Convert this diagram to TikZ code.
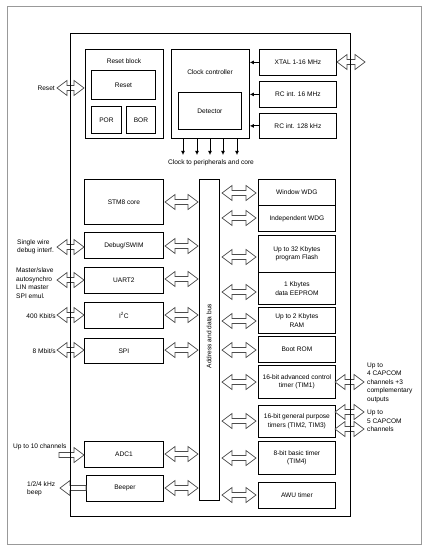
\documentclass[tikz,border=0pt]{standalone}
\usepackage{fontspec}
\setmainfont{Liberation Sans}
\usetikzlibrary{arrows.meta}
\tikzset{
  blk/.style={draw, line width=0.8pt, fill=white, align=center, inner sep=1pt,
    font=\fontsize{6.6}{8.5}\selectfont, anchor=north west},
  lbl/.style={font=\fontsize{6.6}{8.5}\selectfont, inner sep=0pt, align=left},
  barrow/.style={draw=black!70, line width=0.7pt, fill=white, line join=miter},
  clk/.style={-{Latex[length=4pt,width=4pt]}, line width=0.8pt},
  frame/.style={draw=black!40, line width=0.8pt},
  chip/.style={draw, line width=0.8pt},
}
% block node by corners: name, x1, y1, x2, y2, text
\newcommand\blkbox[6]{\node[blk, minimum width=#4pt-#2pt, minimum height=#5pt-#3pt] (#1) at (#2,#3) {#6};}
% double block arrow: x1 x2 y
\newcommand\DA[3]{\draw[barrow] (#1,#3) -- (#1+10,#3-7.5) -- (#1+10,#3-2.5) -- (#2-10,#3-2.5) -- (#2-10,#3-7.5) -- (#2,#3) -- (#2-10,#3+7.5) -- (#2-10,#3+2.5) -- (#1+10,#3+2.5) -- (#1+10,#3+7.5) -- cycle;}
\begin{document}
\begin{tikzpicture}[x=1pt,y=-1pt]
\useasboundingbox (0,0) rectangle (434,556);
% outer frame
\draw[frame] (7,6) rectangle (421,544);
% chip
\path[fill=white] (70,33) rectangle (350,516);
% reset block
\blkbox{rstblk}{85}{49}{163}{138}{}
\node[lbl] (rstlbl) at (124,61) {Reset block};
\blkbox{rst}{91}{70}{155}{99}{Reset}
\blkbox{por}{91}{106}{121}{133}{POR}
\blkbox{bor}{126}{106}{155}{133}{BOR}
% clock controller
\blkbox{clkc}{171}{49}{249}{138}{}
\node[lbl] (clklbl) at (210,72) {Clock controller};
\blkbox{det}{178}{92}{241}{129}{Detector}
\blkbox{xtal}{259}{49}{336}{75}{XTAL 1-16 MHz}
\blkbox{rc16}{259}{81}{336}{107}{RC int. 16 MHz}
\blkbox{rc128}{259}{113}{336}{138}{RC int. 128 kHz}
\draw[clk] (xtal.west) -- (clkc.east |- xtal.west);
\draw[clk] (rc16.west) -- (clkc.east |- rc16.west);
\draw[clk] (rc128.west) -- (clkc.east |- rc128.west);
\foreach \i/\x in {1/183,2/197,3/210,4/223,5/237}{
  \coordinate (ct\i) at (\x,155);
  \draw[clk] (clkc.south -| ct\i) -- (ct\i);
}
\node[lbl] (clkout) at (211,163) {Clock to peripherals and core};
% left column
\blkbox{core}{84}{179}{163}{224}{STM8 core}
\blkbox{dbg}{84}{232}{163}{258}{Debug/SWIM}
\blkbox{uart}{84}{267}{163}{293}{UART2}
\blkbox{iic}{84}{302}{163}{328}{I\textsuperscript{2}C}
\blkbox{spi}{84}{338}{163}{363}{SPI}
\blkbox{adc}{84}{441}{163}{467}{ADC1}
\blkbox{beep}{86}{475}{163}{501}{Beeper}
% bus
\blkbox{bus}{199}{179}{219}{500}{}
\node[lbl, rotate=90] (buslbl) at (209,336) {Address and data bus};
% right column
\blkbox{wwdg}{258}{179}{335}{205}{Window WDG}
\blkbox{iwdg}{258}{205}{335}{231}{Independent WDG}
\blkbox{flash}{258}{235}{335}{272}{Up to 32 Kbytes\\program Flash}
\blkbox{eep}{258}{272}{335}{304}{1 Kbytes\\data EEPROM}
\blkbox{ram}{258}{307}{335}{333}{Up to 2 Kbytes\\RAM}
\blkbox{brom}{258}{336}{335}{362}{Boot ROM}
\blkbox{tima}{258}{365}{335}{398}{16-bit advanced control\\timer (TIM1)}
\blkbox{timb}{258}{405}{335}{437}{16-bit general purpose\\timers (TIM2, TIM3)}
\blkbox{timc}{258}{441}{335}{474}{8-bit basic timer\\(TIM4)}
\blkbox{awu}{258}{482}{335}{508}{AWU timer}
% internal bus arrows
\foreach \y in {202,246,279,315,350,454,488}{\DA{165}{198}{\y}}
\foreach \y in {193,218,257,292,321,350,382,421,458,495}{\DA{222}{256}{\y}}
% external arrows
\DA{57}{84}{88}
\DA{337}{365}{62}
\DA{57}{84}{247}
\DA{57}{84}{280}
\DA{57}{84}{315}
\DA{57}{84}{350}
\DA{335}{364}{382}
\DA{335}{364}{412}
\DA{335}{364}{429}
% ADC input arrow
\draw[barrow] (84,455) -- (74,447.5) -- (74,452.5) -- (59,452.5) -- (59,457.5) -- (74,457.5) -- (74,462.5) -- cycle;
% beeper output arrow
\draw[barrow] (60,488) -- (70,480.5) -- (70,485.5) -- (86,485.5) -- (86,490.5) -- (70,490.5) -- (70,495.5) -- cycle;
% chip boundary on top
\draw[chip] (70,33) rectangle (350,516);
% external labels
\node[lbl, anchor=east] (lrst) at (55,88) {Reset};
\node[lbl, anchor=west] (lswim) at (17,247) {Single wire\\debug interf.};
\node[lbl, anchor=west] (luart) at (16,283) {Master/slave\\autosynchro\\LIN master\\SPI emul.};
\node[lbl, anchor=east] (liic) at (56,316) {400 Kbit/s};
\node[lbl, anchor=east] (lspi) at (56,351) {8 Mbit/s};
\node[lbl, anchor=west] (ladc) at (13,447) {Up to 10 channels};
\node[lbl, anchor=west] (lbeep) at (27,489) {1/2/4 kHz\\beep};
\node[lbl, anchor=west] (ltima) at (367,382.5) {Up to\\4 CAPCOM\\channels +3\\complementary\\outputs};
\node[lbl, anchor=west] (ltimb) at (367,421) {Up to\\5 CAPCOM\\channels};
\end{tikzpicture}
\end{document}
